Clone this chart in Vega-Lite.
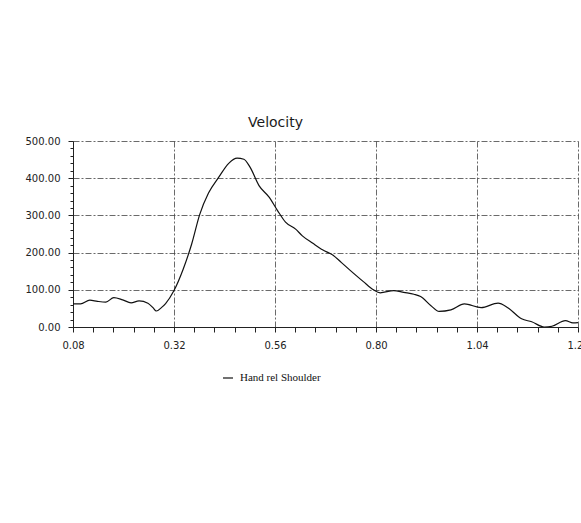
{
  "$schema": "https://vega.github.io/schema/vega-lite/v6.json",
  "autosize": {"type": "none"},
  "padding": {"left": 73, "top": 141, "right": 3, "bottom": 196},
  "width": 505,
  "height": 186,
  "background": "white",
  "title": {
    "text": "Velocity",
    "anchor": "middle",
    "dx": -50,
    "offset": 6,
    "font": "DejaVu Sans",
    "fontSize": 14,
    "fontWeight": "normal",
    "color": "#1a1a1a"
  },
  "data": {
    "values": [
      {"t": 0.080, "v": 62, "series": "Hand rel Shoulder"},
      {"t": 0.098, "v": 62, "series": "Hand rel Shoulder"},
      {"t": 0.120, "v": 72, "series": "Hand rel Shoulder"},
      {"t": 0.138, "v": 69, "series": "Hand rel Shoulder"},
      {"t": 0.158, "v": 67, "series": "Hand rel Shoulder"},
      {"t": 0.177, "v": 79, "series": "Hand rel Shoulder"},
      {"t": 0.198, "v": 73, "series": "Hand rel Shoulder"},
      {"t": 0.218, "v": 65, "series": "Hand rel Shoulder"},
      {"t": 0.237, "v": 70, "series": "Hand rel Shoulder"},
      {"t": 0.258, "v": 64, "series": "Hand rel Shoulder"},
      {"t": 0.270, "v": 52, "series": "Hand rel Shoulder"},
      {"t": 0.278, "v": 43, "series": "Hand rel Shoulder"},
      {"t": 0.290, "v": 52, "series": "Hand rel Shoulder"},
      {"t": 0.300, "v": 63, "series": "Hand rel Shoulder"},
      {"t": 0.320, "v": 98, "series": "Hand rel Shoulder"},
      {"t": 0.342, "v": 156, "series": "Hand rel Shoulder"},
      {"t": 0.362, "v": 223, "series": "Hand rel Shoulder"},
      {"t": 0.381, "v": 302, "series": "Hand rel Shoulder"},
      {"t": 0.402, "v": 360, "series": "Hand rel Shoulder"},
      {"t": 0.426, "v": 402, "series": "Hand rel Shoulder"},
      {"t": 0.450, "v": 440, "series": "Hand rel Shoulder"},
      {"t": 0.470, "v": 454, "series": "Hand rel Shoulder"},
      {"t": 0.486, "v": 451, "series": "Hand rel Shoulder"},
      {"t": 0.501, "v": 429, "series": "Hand rel Shoulder"},
      {"t": 0.522, "v": 380, "series": "Hand rel Shoulder"},
      {"t": 0.546, "v": 349, "series": "Hand rel Shoulder"},
      {"t": 0.566, "v": 313, "series": "Hand rel Shoulder"},
      {"t": 0.585, "v": 282, "series": "Hand rel Shoulder"},
      {"t": 0.609, "v": 263, "series": "Hand rel Shoulder"},
      {"t": 0.625, "v": 245, "series": "Hand rel Shoulder"},
      {"t": 0.650, "v": 225, "series": "Hand rel Shoulder"},
      {"t": 0.674, "v": 207, "series": "Hand rel Shoulder"},
      {"t": 0.698, "v": 193, "series": "Hand rel Shoulder"},
      {"t": 0.718, "v": 173, "series": "Hand rel Shoulder"},
      {"t": 0.738, "v": 153, "series": "Hand rel Shoulder"},
      {"t": 0.770, "v": 122, "series": "Hand rel Shoulder"},
      {"t": 0.794, "v": 100, "series": "Hand rel Shoulder"},
      {"t": 0.810, "v": 92, "series": "Hand rel Shoulder"},
      {"t": 0.842, "v": 98, "series": "Hand rel Shoulder"},
      {"t": 0.866, "v": 93, "series": "Hand rel Shoulder"},
      {"t": 0.890, "v": 88, "series": "Hand rel Shoulder"},
      {"t": 0.906, "v": 82, "series": "Hand rel Shoulder"},
      {"t": 0.930, "v": 58, "series": "Hand rel Shoulder"},
      {"t": 0.950, "v": 42, "series": "Hand rel Shoulder"},
      {"t": 0.978, "v": 46, "series": "Hand rel Shoulder"},
      {"t": 1.010, "v": 62, "series": "Hand rel Shoulder"},
      {"t": 1.050, "v": 52, "series": "Hand rel Shoulder"},
      {"t": 1.090, "v": 64, "series": "Hand rel Shoulder"},
      {"t": 1.113, "v": 52, "series": "Hand rel Shoulder"},
      {"t": 1.146, "v": 22, "series": "Hand rel Shoulder"},
      {"t": 1.170, "v": 14, "series": "Hand rel Shoulder"},
      {"t": 1.200, "v": 0, "series": "Hand rel Shoulder"},
      {"t": 1.218, "v": 2, "series": "Hand rel Shoulder"},
      {"t": 1.250, "v": 17, "series": "Hand rel Shoulder"},
      {"t": 1.268, "v": 11, "series": "Hand rel Shoulder"},
      {"t": 1.280, "v": 12, "series": "Hand rel Shoulder"}
    ]
  },
  "mark": {"type": "line", "strokeWidth": 1.2, "interpolate": "monotone", "clip": true},
  "encoding": {
    "x": {
      "field": "t",
      "type": "quantitative",
      "scale": {"domain": [0.08, 1.28], "nice": false, "zero": false},
      "axis": {
        "title": null,
        "values": [0.08, 0.128, 0.176, 0.224, 0.272, 0.32, 0.368, 0.416, 0.464, 0.512, 0.56, 0.608, 0.656, 0.704, 0.752, 0.8, 0.848, 0.896, 0.944, 0.992, 1.04, 1.088, 1.136, 1.184, 1.232, 1.28],
        "labelExpr": "abs((datum.value*100) % 24 - 8) < 0.5 ? format(datum.value, '.2f') : ''",
        "labelOverlap": false,
        "labelFlush": false,
        "labelPadding": 8,
        "tickSize": 5,
        "gridOpacity": {"condition": {"test": "abs((datum.value*100) % 24 - 8) < 0.5", "value": 1}, "value": 0}
      }
    },
    "y": {
      "field": "v",
      "type": "quantitative",
      "scale": {"domain": [0, 500], "nice": false},
      "axis": {
        "title": null,
        "values": [0, 20, 40, 60, 80, 100, 120, 140, 160, 180, 200, 220, 240, 260, 280, 300, 320, 340, 360, 380, 400, 420, 440, 460, 480, 500],
        "labelExpr": "datum.value % 100 === 0 ? format(datum.value, '.2f') : ''",
        "labelOverlap": false,
        "labelFlush": false,
        "labelPadding": 8,
        "tickSize": {"condition": {"test": "datum.value % 100 === 0", "value": 5}, "value": 3},
        "gridOpacity": {"condition": {"test": "datum.value % 100 === 0", "value": 1}, "value": 0}
      }
    },
    "color": {
      "field": "series",
      "type": "nominal",
      "scale": {"range": ["#111"]},
      "legend": {
        "title": null,
        "orient": "none",
        "legendX": 149,
        "legendY": 231,
        "symbolType": "stroke",
        "symbolSize": 100,
        "symbolStrokeWidth": 1.2,
        "labelFont": "Liberation Serif",
        "labelFontSize": 11,
        "labelColor": "#111",
        "labelOffset": 6
      }
    }
  },
  "config": {
    "view": {"stroke": null},
    "axis": {
      "labelFont": "DejaVu Sans",
      "labelFontSize": 10,
      "labelColor": "#222",
      "domainColor": "#222",
      "domainWidth": 1,
      "tickColor": "#222",
      "tickWidth": 1,
      "grid": true,
      "gridColor": "#444",
      "gridWidth": 0.8,
      "gridDash": [6, 2, 2, 2]
    }
  }
}
